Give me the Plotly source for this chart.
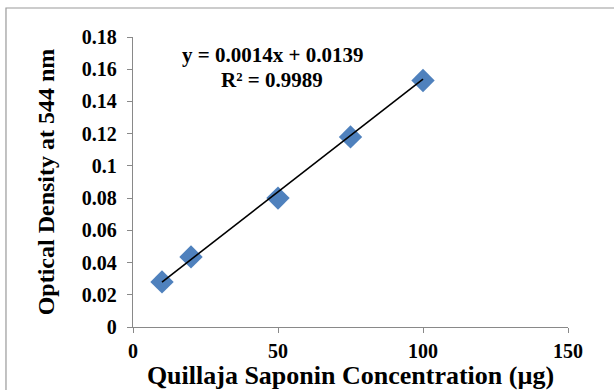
import plotly.graph_objects as go
import numpy as np

conc = [10, 20, 50, 75, 100]
od = [0.028, 0.0435, 0.080, 0.118, 0.153]
slope = 0.0014
intercept = 0.0139
eq_text = "y = 0.0014x + 0.0139"
r2_text = "R² = 0.9989"
x_ticks = [0, 50, 100, 150]
y_ticks = [0, 0.02, 0.04, 0.06, 0.08, 0.1, 0.12, 0.14, 0.16, 0.18]

font = "Liberation Serif"
fig = go.Figure()
fig.add_trace(go.Scatter(x=conc, y=od, mode="markers",
                         marker=dict(symbol="diamond", size=18, color="#4F81BD"),
                         showlegend=False))
fx = np.array([min(conc), max(conc)])
fig.add_trace(go.Scatter(x=fx, y=slope * fx + intercept, mode="lines",
                         line=dict(color="black", width=1.6), showlegend=False))

axis_common = dict(showgrid=False, zeroline=False, showline=True, linecolor="#898989",
                   linewidth=1.3, ticks="outside", ticklen=5, tickcolor="#898989",
                   automargin=False,
                   tickfont=dict(family=font, size=20, color="black"))
fig.update_xaxes(range=[0, 150], tickvals=x_ticks,
                 ticktext=["<b>%d</b>" % v for v in x_ticks], ticklabelstandoff=1,
                 title=dict(text="<b>Quillaja Saponin Concentration (µg)</b>",
                            font=dict(family=font, size=26, color="black"), standoff=3),
                 **axis_common)
fig.update_yaxes(range=[0, 0.18], tickvals=y_ticks,
                 ticktext=["<b>%g</b>" % v for v in y_ticks], ticklabelstandoff=6,
                 title=dict(text="<b>Optical Density at 544 nm</b>",
                            font=dict(family=font, size=24, color="black"), standoff=20),
                 **axis_common)

fig.add_annotation(xref="x", yref="y", x=48, y=0.1688, text="<b>%s</b>" % eq_text,
                   showarrow=False, font=dict(family=font, size=21, color="black"))
fig.add_annotation(xref="x", yref="y", x=48, y=0.1533, text="<b>%s</b>" % r2_text,
                   showarrow=False, font=dict(family=font, size=21, color="black"))

fig.add_shape(type="rect", xref="paper", yref="paper", x0=-0.292, x1=1.3, y0=-0.4, y1=1.1,
              line=dict(color="#9a9a9a", width=1.2), fillcolor="rgba(0,0,0,0)", layer="below")

fig.update_layout(width=614, height=390, margin=dict(l=133, r=46, t=37, b=63),
                  plot_bgcolor="white", paper_bgcolor="white")
fig.write_html("out.html")
